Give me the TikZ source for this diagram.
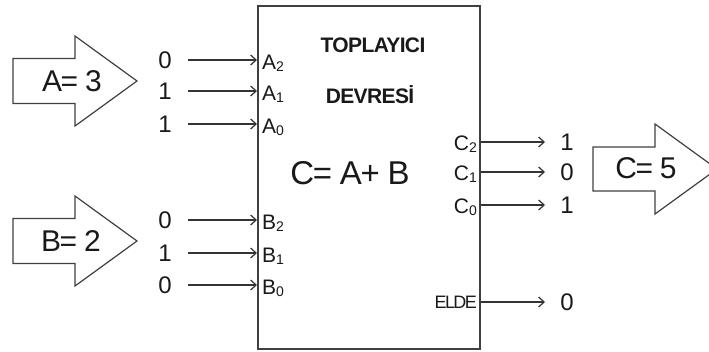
\documentclass[tikz,border=0pt]{standalone}
\usepackage{fontspec}
\setmainfont{Liberation Sans}
\usetikzlibrary{arrows.meta}
\newcommand{\lowsub}[1]{\raisebox{-2pt}{\fontsize{14}{14}\selectfont #1}}
\tikzset{
  arr/.style={draw=black!80, line width=1.4pt, -{Straight Barb[length=5.5pt,width=10pt,line width=1.2pt]}},
  blockarrow/.style={draw=black!75, line width=1.2pt},
  bignum/.style={font=\fontsize{24}{24}\selectfont, text=black!90, inner sep=1pt},
  port/.style={font=\fontsize{21}{21}\selectfont, text=black!90, inner sep=0pt},
  title/.style={font=\bfseries\fontsize{21}{21}\selectfont, text=black!90, inner sep=0pt},
  biglabel/.style={font=\fontsize{33}{33}\selectfont, text=black!90, inner sep=0pt},
  arrlabel/.style={font=\fontsize{30}{30}\selectfont, text=black!90, inner sep=0pt},
  boxstyle/.style={draw=black!75, line width=1.8pt, minimum width=222pt, minimum height=343pt, anchor=north west, inner sep=0pt}
}
\begin{document}
\begin{tikzpicture}[x=1pt,y=-1pt]
\useasboundingbox (0,0) rectangle (709,351);
\clip (0,0) rectangle (709,351);
% main box
\node[boxstyle] (box) at (257,5) {};
\node[title] (t1) at (373,45) {\addfontfeatures{LetterSpace=-3}TOPLAYICI};
\node[title] (t2) at (370,95) {\addfontfeatures{LetterSpace=-3}DEVRES\.{I}};
\node[biglabel] (eq) at (350,173) {\addfontfeatures{LetterSpace=-4}C= A+ B};

% block arrows
\draw[blockarrow] (13,58.5) -- (75,58.5) -- (75,36) -- (137,81) -- (75,126) -- (75,103.5) -- (13,103.5) -- cycle;
\node[arrlabel] (A) at (72,81) {\addfontfeatures{LetterSpace=-5}A= 3};
\draw[blockarrow] (13,218.5) -- (75,218.5) -- (75,196) -- (137,241) -- (75,286) -- (75,263.5) -- (13,263.5) -- cycle;
\node[arrlabel] (B) at (71,241) {\addfontfeatures{LetterSpace=-5}B= 2};
\draw[blockarrow] (593,147) -- (655,147) -- (655,124) -- (717,169) -- (655,214) -- (655,191) -- (593,191) -- cycle;
\node[arrlabel] (C) at (646,168) {\addfontfeatures{LetterSpace=-5}C= 5};

% input numbers
\node[bignum] (a2) at (165,60) {0};
\node[bignum] (a1) at (165,91) {1};
\node[bignum] (a0) at (165,124) {1};
\node[bignum] (b2) at (165,220) {0};
\node[bignum] (b1) at (165,253) {1};
\node[bignum] (b0) at (165,285) {0};

% input port labels
\node[port, anchor=west] (pa2) at (262,63) {A\lowsub{2}};
\node[port, anchor=west] (pa1) at (262,94) {A\lowsub{1}};
\node[port, anchor=west] (pa0) at (262,127) {A\lowsub{0}};
\node[port, anchor=west] (pb2) at (262,223) {B\lowsub{2}};
\node[port, anchor=west] (pb1) at (262,256) {B\lowsub{1}};
\node[port, anchor=west] (pb0) at (262,288) {B\lowsub{0}};

\foreach \n in {a2,a1,a0,b2,b1,b0}{
  \draw[arr] ([xshift=23pt]\n.center) -- (\n -| box.west);
}

% output port labels
\node[port, anchor=east] (pc2) at (477,144) {C\lowsub{2}};
\node[port, anchor=east] (pc1) at (477,174) {C\lowsub{1}};
\node[port, anchor=east] (pc0) at (477,207) {C\lowsub{0}};
\node[port, anchor=east, font=\fontsize{18}{18}\selectfont] (pel) at (477,302) {\addfontfeatures{LetterSpace=-9}ELDE};

% output numbers
\node[bignum] (c2) at (567,142) {1};
\node[bignum] (c1) at (567,172) {0};
\node[bignum] (c0) at (567,205) {1};
\node[bignum] (el) at (567,302) {0};

\foreach \n in {c2,c1,c0,el}{
  \draw[arr] (\n -| box.east) -- ([xshift=-22pt]\n.center);
}
\end{tikzpicture}
\end{document}
